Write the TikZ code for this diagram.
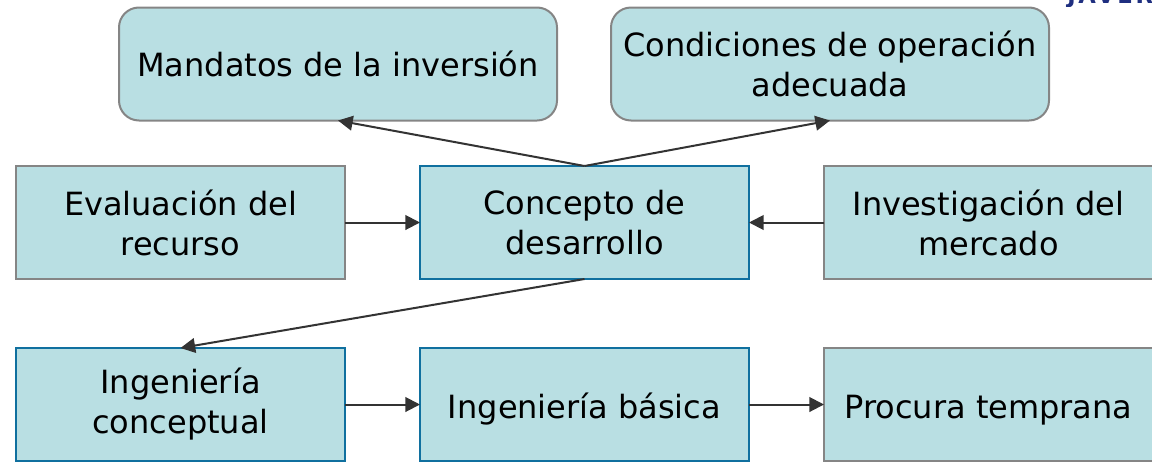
\documentclass[tikz,border=0pt]{standalone}
\usepackage{fontspec}
\setmainfont{DejaVu Sans}
\usetikzlibrary{arrows.meta}
\definecolor{boxfill}{HTML}{B9DFE3}
\definecolor{edgeblue}{HTML}{10709F}
\definecolor{edgegray}{HTML}{858585}
\definecolor{arrowgray}{HTML}{333333}
\definecolor{logoblue}{HTML}{1F2F80}
\tikzset{
	block/.style={draw=edgegray, line width=1.5pt, fill=boxfill, minimum width=246.75pt, minimum height=84.75pt, inner sep=0pt, outer sep=0pt, align=center, font=\fontsize{24}{30}\selectfont},
	blueblock/.style={block, draw=edgeblue},
	roundblock/.style={block, rounded corners=15pt, minimum width=328.5pt},
	lowtext/.style={text height=22pt, text depth=1.5pt},
	link/.style={draw=arrowgray, line width=1.5pt, -{Triangle[length=11pt,width=11pt]}}
}

\begin{document}
\begin{tikzpicture}[x=0.75pt, y=-0.75pt]
	\useasboundingbox (0, 0) rectangle (1152, 461);
	
	%%%%% top row %%%%%
	\node[roundblock] (mandatos) at (338, 64) {Mandatos de la inversión};
	\node[roundblock] (condiciones) at (830, 64) {Condiciones de operación\\adecuada};
	
	%%%%% middle row %%%%%
	\node[block] (recurso) at (180.5, 222.5) {Evaluación del\\recurso};
	\node[blueblock] (concepto) at (584.5, 222.5) {Concepto de\\desarrollo};
	\node[block] (mercado) at (988.5, 222.5) {Investigación del\\mercado};
	
	%%%%% bottom row %%%%%
	\node[blueblock] (conceptual) at (180.5, 404.5) {Ingeniería\\conceptual};
	\node[blueblock, lowtext] (basica) at (584.5, 404.5) {Ingeniería básica};
	\node[block, lowtext] (procura) at (988.5, 404.5) {Procura temprana};
	
	%%%%% connectors %%%%%
	\draw[link] (concepto.north) -- (mandatos.south);
	\draw[link] (concepto.north) -- (condiciones.south);
	\draw[link] (recurso) -- (concepto);
	\draw[link] (mercado) -- (concepto);
	\draw[link] (concepto.south) -- (conceptual.north);
	\draw[link] (conceptual) -- (basica);
	\draw[link] (basica) -- (procura);
	
	%%%%% logo cut by the top edge %%%%%
	\begin{scope}
		\clip (1060, 0) rectangle (1152, 6);
		\node[anchor=base west, inner sep=0pt, text=logoblue, font=\fontsize{17}{17}\bfseries\selectfont] (logo) at (1067, 3) {\addfontfeatures{LetterSpace=12}JAVER};
	\end{scope}
\end{tikzpicture}
\end{document}
